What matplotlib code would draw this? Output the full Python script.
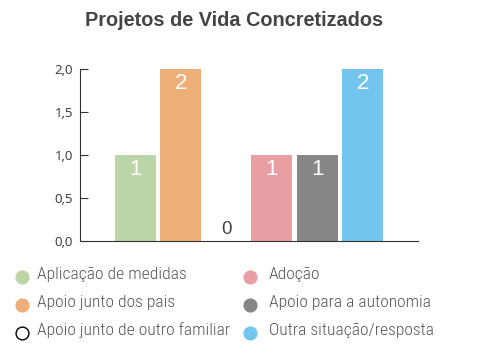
import matplotlib
matplotlib.use('Agg')
import matplotlib.pyplot as plt

# chart data
categories = ['Aplicação de medidas', 'Apoio junto dos pais', 'Apoio junto de outro familiar',
              'Adoção', 'Apoio para a autonomia', 'Outra situação/resposta']
values = [1, 2, 0, 1, 1, 2]
colors = ['#BBD5A6', '#ECAF77', '#FFFFFF', '#E89EA2', '#878787', '#74C5EE']
yticks = [0.0, 0.5, 1.0, 1.5, 2.0]
ytick_labels = ['0,0', '0,5', '1,0', '1,5', '2,0']

W, H = 488, 362
fig = plt.figure(figsize=(W / 100, H / 100), dpi=100)
ax = fig.add_axes([80 / W, 1 - 240.5 / H, 338 / W, 171.5 / H])

x = list(range(len(values)))
ax.bar(x, values, width=0.9, color=colors, edgecolor='none')

for xi, v in zip(x, values):
    if v > 0:
        ax.text(xi, v - 0.05, str(v), ha='center', va='top', color='white',
                fontsize=16, family='Liberation Sans')
    else:
        ax.text(xi, 0.03, str(v), ha='center', va='bottom', color='#444444',
                fontsize=13.5, family='Liberation Sans')

ax.set_xlim(-1.22, 6.22)
ax.set_ylim(0, 2.0)
ax.set_yticks(yticks)
ax.set_yticklabels(ytick_labels, fontsize=9.5, color='#333333', family='Open Sans')
ax.set_xticks([])
ax.tick_params(axis='y', direction='in', length=6, color='#333333', pad=5)
for s in ['top', 'right']:
    ax.spines[s].set_visible(False)
for s in ['left', 'bottom']:
    ax.spines[s].set_color('#333333')
    ax.spines[s].set_linewidth(0.8)

fig.text(234 / W, 1 - 20 / H, 'Projetos de Vida Concretizados', ha='center', va='center',
         fontsize=14.3, fontweight='bold', color='#444444', family='Liberation Sans')

# legend, drawn by hand in pixel coordinates
lax = fig.add_axes([0, 0, 1, 1])
lax.set_xlim(0, W)
lax.set_ylim(H, 0)
lax.axis('off')
col_x = [22, 250]
text_x = [37, 269]
row_y = [277, 305, 333]
for i, (c, lab) in enumerate(zip(colors, categories)):
    col, row = divmod(i, 3)
    ec = '#000000' if c == '#FFFFFF' else c
    lax.plot(col_x[col], row_y[row], marker='o', markersize=9.2, markerfacecolor=c,
             markeredgecolor=ec, markeredgewidth=1.0, linestyle='none')
    lax.text(text_x[col], row_y[row] - 3, lab, ha='left', va='center', fontsize=12.6,
             family='Roboto Condensed', fontweight='light', color='#555555')

fig.savefig('out.png', dpi=100)
